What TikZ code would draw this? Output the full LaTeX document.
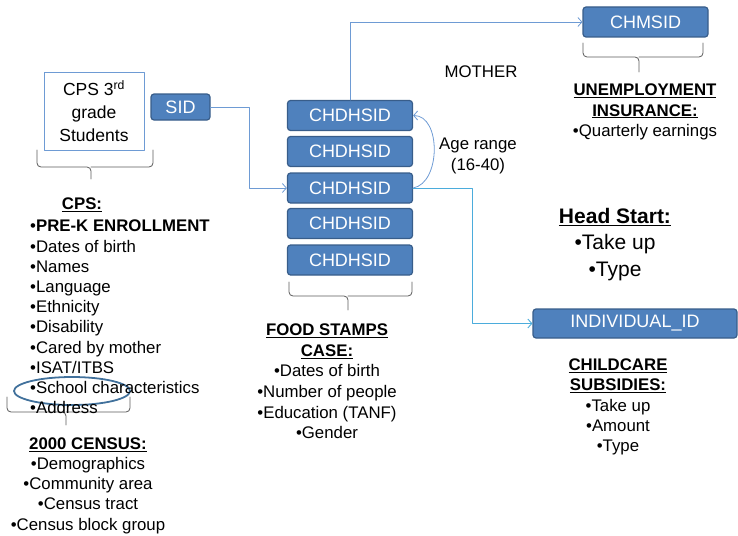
\documentclass[tikz,border=0pt]{standalone}
\usepackage{fontspec}
\setmainfont{Liberation Sans}
\usetikzlibrary{arrows.meta}
\definecolor{boxfill}{RGB}{79,129,189}
\definecolor{boxedge}{RGB}{56,93,138}
\definecolor{linkblue}{RGB}{110,155,212}
\definecolor{linkcyan}{RGB}{75,172,220}
\definecolor{ringblue}{RGB}{65,113,156}
\definecolor{bracegray}{RGB}{90,90,90}
\tikzset{
  idbox/.style={draw=boxedge,fill=boxfill,rounded corners=3pt,line width=1.2pt,text=white,
    font=\fontsize{18}{20}\selectfont,minimum width=125pt,minimum height=30pt,inner sep=0pt},
  link/.style={draw=linkblue,line width=0.8pt},
  linkalt/.style={draw=linkcyan,line width=0.9pt},
  brace/.style={draw=bracegray,line width=0.8pt,rounded corners=4pt},
  txt/.style={font=\fontsize{16.8}{20.2}\selectfont,inner sep=0pt,align=center},
}
\begin{document}
\begin{tikzpicture}[line cap=round,line join=round,>={Straight Barb[length=4pt,width=9pt]},x=1pt,y=-1pt]
			\useasboundingbox (0,0) rectangle (738,535);
			% boxes
			\node[draw=linkblue,fill=white,line width=0.8pt,minimum width=100pt,minimum height=78pt,align=center,
			  font=\fontsize{17.5}{23}\selectfont] (cps) at (94,111) {CPS 3\textsuperscript{rd}\\grade\\Students};
			\node[idbox,minimum width=59pt,minimum height=26pt] (sid) at (180.5,107) {SID};
			\node[idbox] (chd1) at (350,115.5) {CHDHSID};
			\node[idbox] (chd2) at (350,151.5) {CHDHSID};
			\node[idbox] (chd3) at (350,188) {CHDHSID};
			\node[idbox] (chd4) at (350,223.5) {CHDHSID};
			\node[idbox] (chd5) at (350,260) {CHDHSID};
			\node[idbox] (chms) at (645.5,22) {CHMSID};
			\node[idbox,minimum width=204pt,minimum height=29pt] (indiv) at (635,323.5) {INDIVIDUAL\_ID};
			% links
			\draw[link,->] (sid.east) -- ++(39,0) |- (chd3.west);
			\draw[link,->] (chd1.north) |- (chms.west);
			\draw[link,->] (chd3.east) to[out=10,in=0] (chd1.east);
			\draw[linkalt,->] (chd3.east) -- ++(59,0) |- (indiv.west);
			% braces
			\draw[brace] (37,150) |- (91,167) -- (91,179) (153,150) |- (91,167);
			\draw[brace] (289,282) |- (348,296) -- (348,310) (412,282) |- (348,296);
			\draw[brace] (583,43) |- (639,57) -- (639,72) (703,43) |- (639,57);
			\draw[brace] (7,397) |- (66,412) -- (66,425) (130,397) |- (66,412);
			\draw[ringblue,line width=1.8pt] (72,391) ellipse [x radius=58, y radius=14];
			% texts
			\node[txt] (mother) at (481,72) {MOTHER};
			\node[txt] (agerange) at (478,156) {Age range\\(16-40)};
			\node[txt] (cpshead) at (82,205) {\textbf{\underline{CPS:}}};
			\node[txt,align=left,anchor=west] (cpslist) at (30,317) {•\textbf{PRE-K ENROLLMENT}\\•Dates of birth\\•Names\\•Language\\•Ethnicity\\•Disability\\•Cared by mother\\•ISAT/ITBS\\•School characteristics\\•Address};
			\node[txt] (census) at (88,485.5) {\textbf{\underline{2000 CENSUS:}}\\•Demographics\\•Community area\\•Census tract\\•Census block group};
			\node[txt,font=\fontsize{16.8}{20.6}\selectfont] (food) at (327,381.5) {\textbf{\underline{FOOD STAMPS}}\\\textbf{\underline{CASE:}}\\•Dates of birth\\•Number of people\\•Education (TANF)\\•Gender};
			\node[txt] (unemp) at (645,112) {\textbf{\underline{UNEMPLOYMENT}}\\\textbf{\underline{INSURANCE:}}\\•Quarterly earnings};
			\node[txt,font=\fontsize{21}{26.5}\selectfont] (headstart) at (615,244.5) {\textbf{\underline{Head Start:}}\\•Take up\\•Type};
			\node[txt] (childcare) at (618,407) {\textbf{\underline{CHILDCARE}}\\\textbf{\underline{SUBSIDIES:}}\\•Take up\\•Amount\\•Type};
\end{tikzpicture}
\end{document}
